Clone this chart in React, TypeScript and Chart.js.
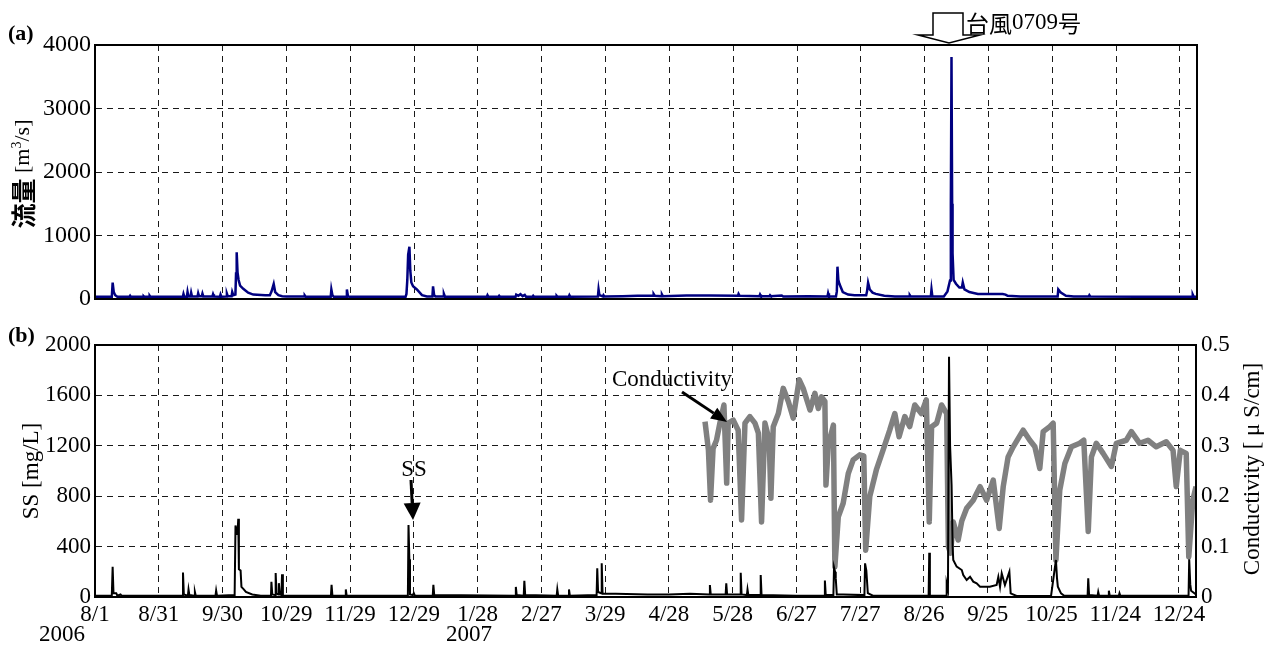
import React, { useEffect, useRef } from "react";
import { Chart, registerables } from "chart.js";
Chart.register(...registerables);

// ---------- data ----------
const tickDays = [0, 30, 60, 90, 120, 150, 180, 210, 240, 270, 300, 330, 360, 390, 420, 450, 480, 510];
const tickLabels = ["8/1", "8/31", "9/30", "10/29", "11/29", "12/29", "1/28", "2/27", "3/29", "4/28", "5/28", "6/27", "7/27", "8/26", "9/25", "10/25", "11/24", "12/24"];
const flowTicks = [0, 500, 1000, 1500, 2000, 2500, 3000, 3500, 4000];
const ssTicks = [0, 200, 400, 600, 800, 1000, 1200, 1400, 1600, 1800, 2000];
const condTicks = [0, 0.1, 0.2, 0.3, 0.4, 0.5];

// days since 2006-08-01, discharge m3/s
const flowDays = [0, 7.9, 8.3, 8.8, 9.5, 10.5, 16.2, 16.5, 16.8, 22.6, 22.9, 23.2, 25.4, 25.7, 26, 41.3, 41.6, 42, 43.2, 43.5, 43.9, 44.9, 45.2, 45.6, 48.2, 48.5, 48.9, 50.2, 50.5, 50.9, 55.2, 55.5, 55.9, 58.7, 59, 59.4, 61.7, 62, 62.4, 64.2, 64.5, 65, 66, 66.3, 66.6, 67, 67.5, 68.2, 69.7, 72, 74.4, 80, 82.2, 83, 84, 84.7, 86.2, 88, 90, 98.3, 98.6, 99, 110.8, 111.1, 111.6, 112.2, 118.1, 118.4, 118.9, 119.5, 146, 146.4, 146.8, 147.2, 147.8, 148.2, 148.7, 149.5, 151.3, 153.7, 156, 158.6, 158.9, 159.4, 160, 163.7, 164, 164.5, 184.2, 184.5, 184.9, 189.7, 190, 190.4, 197.7, 198, 199, 200, 201, 202, 202.6, 205.7, 206, 206.4, 216.7, 217, 217.4, 222.7, 223, 223.4, 236.4, 236.7, 237.1, 238.7, 239, 239.4, 248, 255, 262.3, 262.6, 263.2, 266.2, 266.5, 266.9, 278, 289, 302.2, 302.5, 303, 312.3, 312.6, 313, 317, 317.3, 317.7, 322.8, 323.5, 335.3, 344.3, 344.6, 345, 348.3, 348.7, 349, 349.4, 349.9, 351.5, 354, 357, 362.5, 362.9, 363.4, 364.2, 365.5, 367, 371, 376, 382.7, 383, 383.4, 392.9, 393.2, 393.6, 399, 400.7, 401.9, 402.3, 402.6, 402.9, 403.1, 403.6, 404.7, 406.3, 407.5, 407.9, 408.7, 411, 415, 426.7, 428, 429, 435, 452.5, 452.8, 453.5, 454, 456.4, 460, 467.1, 467.4, 467.8, 490, 515.7, 516, 516.4, 518];
const flowValues = [35, 35, 257, 110, 60, 35, 35, 50, 35, 35, 45, 35, 35, 50, 35, 35, 80, 35, 35, 110, 40, 40, 100, 40, 40, 90, 45, 45, 85, 40, 40, 75, 40, 35, 70, 35, 40, 85, 45, 45, 110, 60, 70, 400, 735, 420, 300, 210, 160, 100, 70, 60, 60, 120, 236, 110, 60, 45, 40, 40, 55, 35, 35, 150, 60, 35, 35, 150, 45, 35, 35, 80, 300, 700, 824, 450, 260, 200, 150, 60, 40, 40, 200, 60, 40, 40, 80, 35, 35, 60, 35, 35, 50, 35, 35, 70, 50, 75, 45, 65, 35, 35, 50, 35, 35, 50, 35, 35, 60, 35, 40, 150, 60, 40, 60, 40, 45, 50, 50, 80, 50, 45, 70, 45, 55, 55, 50, 80, 50, 45, 70, 45, 45, 60, 45, 55, 40, 45, 40, 90, 40, 40, 120, 509, 300, 240, 110, 70, 60, 60, 120, 257, 150, 100, 80, 50, 40, 40, 60, 40, 40, 150, 40, 40, 120, 290, 1500, 3811, 1500, 720, 300, 240, 180, 180, 260, 150, 110, 80, 80, 70, 50, 40, 40, 150, 120, 100, 50, 40, 40, 60, 40, 35, 35, 70, 40, 35];

// suspended solids mg/L
const ssDays = [0, 7.9, 8.3, 8.7, 10, 10.5, 12, 12.5, 41.1, 41.4, 41.8, 43.7, 44, 44.4, 46.7, 47, 47.4, 56.7, 57, 57.4, 65.7, 66.1, 66.5, 66.8, 67.1, 67.4, 67.7, 68.5, 68.9, 70, 71, 74, 78, 82.8, 83, 83.4, 84.7, 85, 85.4, 86.2, 86.5, 86.9, 87.7, 88, 88.4, 100, 111, 111.3, 111.7, 117.7, 118, 118.4, 147.2, 147.5, 147.9, 148.2, 149.5, 150, 150.5, 158.9, 159.2, 159.6, 197.7, 198, 198.4, 201.7, 202, 202.4, 217.2, 217.5, 217.9, 222.7, 223, 223.4, 236, 236.3, 236.7, 238.1, 238.4, 238.8, 245, 260, 270, 280, 289, 289.3, 289.7, 296.7, 297, 297.4, 303.5, 303.8, 304.2, 306.7, 307, 307.4, 312.9, 313.2, 313.6, 330, 343.1, 343.4, 343.8, 347.4, 347.7, 348.2, 348.5, 349, 352, 362, 362.3, 362.9, 363.6, 366, 380, 392.2, 392.5, 392.8, 400.4, 400.7, 401.3, 401.8, 402.3, 403, 403.5, 403.8, 405.4, 407.8, 408.5, 410.1, 411.7, 413.2, 414.8, 416.4, 421, 424.2, 425, 425.8, 426.6, 428.1, 430.2, 430.8, 433.6, 449.8, 452.1, 452.6, 453, 454.5, 456, 467, 467.3, 467.7, 471.7, 472, 472.4, 476.7, 477, 477.4, 481.7, 482, 482.4, 510, 514.5, 514.8, 515.3, 515.7, 518];
const ssValues = [10, 10, 240, 30, 30, 10, 20, 10, 10, 195, 20, 10, 60, 15, 10, 40, 10, 10, 50, 10, 15, 568, 500, 560, 520, 621, 220, 210, 80, 60, 40, 20, 10, 10, 120, 20, 15, 190, 30, 20, 110, 25, 15, 180, 10, 10, 10, 96, 10, 10, 60, 10, 10, 571, 300, 20, 15, 30, 10, 10, 96, 15, 10, 80, 15, 10, 128, 15, 10, 60, 10, 10, 60, 10, 15, 228, 40, 30, 267, 25, 25, 20, 20, 25, 20, 95, 20, 20, 108, 20, 20, 193, 20, 15, 60, 15, 15, 175, 15, 10, 10, 130, 15, 15, 235, 200, 150, 20, 20, 15, 267, 210, 30, 10, 10, 10, 352, 10, 10, 106, 60, 1907, 1200, 889, 400, 294, 241, 214, 175, 135, 161, 122, 108, 82, 82, 95, 160, 80, 188, 95, 201, 29, 8, 8, 294, 150, 82, 29, 10, 10, 148, 15, 10, 40, 10, 10, 50, 10, 10, 30, 10, 10, 10, 300, 100, 50, 20];

// conductivity uS/cm
const condDays = [287.0, 288.6, 289.6, 290.8, 292.4, 294, 295.9, 297.2, 297.9, 300.3, 302.6, 304.2, 305.8, 308.1, 310.5, 312.1, 313.6, 315.2, 317.2, 318, 319.1, 321.5, 323.8, 326.2, 328.5, 331.3, 333.2, 336.4, 338.7, 340.3, 341.8, 343.4, 343.9, 345, 347.4, 348.1, 349.7, 352, 354.4, 356.7, 359.8, 361.7, 362.6, 364.5, 367.6, 370.8, 373.9, 376.3, 378.3, 381, 383.3, 385.7, 388.8, 391.1, 392.5, 393.6, 396, 398.3, 400.7, 401.5, 402.5, 403.8, 406.1, 407.8, 410.1, 413.2, 416.4, 419.5, 422.6, 425.4, 427.3, 429.6, 432, 436.7, 439.8, 442.2, 444.5, 446.1, 449.2, 450.8, 452.1, 453.9, 456.3, 459.4, 463.3, 465.2, 467.3, 468.8, 471.1, 474.3, 478.2, 480.5, 485.2, 487.6, 491.5, 495.4, 499.3, 504, 507.2, 508.7, 510.6, 513.4, 514.6, 516.5, 518];
const condValues = [0.348, 0.292, 0.192, 0.295, 0.311, 0.345, 0.381, 0.226, 0.345, 0.351, 0.331, 0.153, 0.345, 0.358, 0.345, 0.325, 0.149, 0.345, 0.311, 0.196, 0.338, 0.364, 0.414, 0.388, 0.355, 0.431, 0.414, 0.371, 0.404, 0.374, 0.397, 0.388, 0.222, 0.302, 0.341, 0.06, 0.159, 0.186, 0.245, 0.272, 0.282, 0.28, 0.093, 0.199, 0.252, 0.292, 0.331, 0.364, 0.318, 0.358, 0.338, 0.381, 0.364, 0.391, 0.149, 0.338, 0.345, 0.381, 0.364, 0.1, 0.087, 0.149, 0.113, 0.151, 0.176, 0.192, 0.219, 0.192, 0.232, 0.136, 0.219, 0.278, 0.298, 0.331, 0.311, 0.298, 0.255, 0.328, 0.338, 0.345, 0.073, 0.212, 0.265, 0.298, 0.305, 0.311, 0.13, 0.278, 0.305, 0.285, 0.259, 0.305, 0.311, 0.328, 0.305, 0.311, 0.298, 0.308, 0.291, 0.219, 0.291, 0.285, 0.08, 0.192, 0.219];

// ---------- helpers ----------
const SERIF = "'Liberation Serif', 'Times New Roman', serif";
const CJK = "'Noto Sans CJK JP', sans-serif";

type Part = { text: string; font: string; dy?: number };

function drawRich(ctx: CanvasRenderingContext2D, parts: Part[], cx: number, cy: number, rotate: boolean, align: "center" | "left" = "center") {
  ctx.save();
  ctx.translate(cx, cy);
  if (rotate) ctx.rotate(-Math.PI / 2);
  let total = 0;
  for (const p of parts) {
    ctx.font = p.font;
    total += ctx.measureText(p.text).width;
  }
  let x = align === "center" ? -total / 2 : 0;
  ctx.textBaseline = "middle";
  ctx.textAlign = "left";
  ctx.fillStyle = "#000";
  for (const p of parts) {
    ctx.font = p.font;
    ctx.fillText(p.text, x, p.dy || 0);
    x += ctx.measureText(p.text).width;
  }
  ctx.restore();
}

function drawArrow(ctx: CanvasRenderingContext2D, x1: number, y1: number, x2: number, y2: number, headLen: number, headW: number, lw: number) {
  const ang = Math.atan2(y2 - y1, x2 - x1);
  const bx = x2 - headLen * Math.cos(ang);
  const by = y2 - headLen * Math.sin(ang);
  ctx.save();
  ctx.strokeStyle = "#000";
  ctx.fillStyle = "#000";
  ctx.lineWidth = lw;
  ctx.beginPath();
  ctx.moveTo(x1, y1);
  ctx.lineTo(bx, by);
  ctx.stroke();
  const px = -Math.sin(ang) * headW / 2;
  const py = Math.cos(ang) * headW / 2;
  ctx.beginPath();
  ctx.moveTo(x2, y2);
  ctx.lineTo(bx + px, by + py);
  ctx.lineTo(bx - px, by - py);
  ctx.closePath();
  ctx.fill();
  ctx.restore();
}

function frame(chart: any) {
  const { ctx, chartArea: a } = chart;
  ctx.save();
  ctx.strokeStyle = "#000";
  ctx.lineWidth = 2;
  ctx.strokeRect(a.left, a.top, a.right - a.left, a.bottom - a.top);
  ctx.restore();
}

const gridOpts = { color: "#1a1a1a", lineWidth: 1, drawTicks: false };
const borderOpts = { display: true, color: "#000", width: 2, dash: [6, 5] };

function toPoints(xs: number[], ys: number[]) {
  return xs.map((x, i) => ({ x, y: ys[i] }));
}

const xTickBuild = (s: any) => {
  s.ticks = tickDays.map((v) => ({ value: v }));
};

export default function App() {
  const topRef = useRef<HTMLCanvasElement>(null);
  const botRef = useRef<HTMLCanvasElement>(null);

  useEffect(() => {
    const top = new Chart(topRef.current as HTMLCanvasElement, {
      type: "line",
      data: {
        datasets: [
          {
            data: toPoints(flowDays, flowValues),
            borderColor: "#000080",
            borderWidth: 2.5,
            pointRadius: 0,
            tension: 0,
          },
        ],
      },
      options: {
        animation: false,
        responsive: false,
        events: [],
        layout: { padding: { left: 0, right: 73, top: 45, bottom: 21 } },
        plugins: { legend: { display: false }, tooltip: { enabled: false } },
        scales: {
          x: {
            type: "linear",
            min: 0,
            max: 518,
            afterBuildTicks: xTickBuild,
            ticks: { display: false },
            grid: gridOpts,
            border: borderOpts,
            afterFit: (s: any) => {
              s.height = 0;
            },
          },
          y: {
            min: 0,
            max: 4000,
            afterBuildTicks: (s: any) => {
              s.ticks = flowTicks.map((v) => ({ value: v }));
            },
            ticks: {
              callback: (v: any) => (v % 1000 === 0 ? String(v) : ""),
              font: { family: SERIF, size: 24 },
              color: "#000",
              padding: 4,
            },
            grid: gridOpts,
            border: borderOpts,
            afterFit: (s: any) => {
              s.width = 95;
            },
          },
        },
      },
      plugins: [
        {
          id: "decoTop",
          afterDraw(chart: any) {
            const ctx = chart.ctx as CanvasRenderingContext2D;
            frame(chart);
            drawRich(ctx, [{ text: "(a)", font: `bold 22px ${SERIF}` }], 8, 34, false, "left");
            drawRich(
              ctx,
              [
                { text: "流量", font: `bold 25px ${CJK}` },
                { text: " [m", font: `22px ${SERIF}` },
                { text: "3", font: `14px ${SERIF}`, dy: -6 },
                { text: "/s]", font: `22px ${SERIF}` },
              ],
              23,
              174,
              true
            );
            // typhoon hollow arrow
            ctx.save();
            ctx.strokeStyle = "#000";
            ctx.fillStyle = "#fff";
            ctx.lineWidth = 1.5;
            ctx.beginPath();
            ctx.moveTo(933, 13);
            ctx.lineTo(963, 13);
            ctx.lineTo(963, 35);
            ctx.lineTo(980, 35);
            ctx.lineTo(949, 43);
            ctx.lineTo(918, 35);
            ctx.lineTo(933, 35);
            ctx.closePath();
            ctx.fill();
            ctx.stroke();
            ctx.restore();
            drawRich(
              ctx,
              [
                { text: "台風", font: `23px ${CJK}` },
                { text: "0709", font: `23px ${SERIF}` },
                { text: "号", font: `23px ${CJK}` },
              ],
              966,
              23,
              false,
              "left"
            );
          },
        },
      ],
    } as any);

    const bot = new Chart(botRef.current as HTMLCanvasElement, {
      type: "line",
      data: {
        datasets: [
          {
            data: toPoints(ssDays, ssValues),
            borderColor: "#000",
            borderWidth: 2,
            pointRadius: 0,
            tension: 0,
            yAxisID: "y",
          },
          {
            data: toPoints(condDays, condValues),
            borderColor: "#808080",
            borderWidth: 5.5,
            borderJoinStyle: "round",
            pointRadius: 0,
            tension: 0,
            yAxisID: "y1",
          },
        ],
      },
      options: {
        animation: false,
        responsive: false,
        events: [],
        layout: { padding: { left: 0, right: 0, top: 25, bottom: 0 } },
        plugins: { legend: { display: false }, tooltip: { enabled: false } },
        scales: {
          x: {
            type: "linear",
            min: 0,
            max: 518,
            afterBuildTicks: xTickBuild,
            ticks: {
              autoSkip: false,
              maxRotation: 0,
              minRotation: 0,
              padding: 4,
              font: { family: SERIF, size: 23 },
              color: "#000",
              callback: (v: any) => {
                const i = tickDays.indexOf(Number(v));
                return i >= 0 ? tickLabels[i] : "";
              },
            },
            grid: gridOpts,
            border: borderOpts,
            afterFit: (s: any) => {
              s.height = 49;
            },
          },
          y: {
            position: "left",
            min: 0,
            max: 2000,
            afterBuildTicks: (s: any) => {
              s.ticks = ssTicks.map((v) => ({ value: v }));
            },
            ticks: {
              callback: (v: any) => (v % 400 === 0 ? String(v) : ""),
              font: { family: SERIF, size: 23 },
              color: "#000",
              padding: 4,
            },
            grid: gridOpts,
            border: borderOpts,
            afterFit: (s: any) => {
              s.width = 95;
            },
          },
          y1: {
            position: "right",
            min: 0,
            max: 0.5,
            afterBuildTicks: (s: any) => {
              s.ticks = condTicks.map((v) => ({ value: v }));
            },
            ticks: {
              callback: (v: any) => (Number(v) === 0 ? "0" : Number(v).toFixed(1)),
              font: { family: SERIF, size: 23 },
              color: "#000",
              padding: 5,
            },
            grid: { display: false, drawTicks: false },
            border: { display: true, color: "#000", width: 2 },
            afterFit: (s: any) => {
              s.width = 74;
            },
          },
        },
      },
      plugins: [
        {
          id: "decoBot",
          afterDraw(chart: any) {
            const ctx = chart.ctx as CanvasRenderingContext2D;
            frame(chart);
            drawRich(ctx, [{ text: "(b)", font: `bold 22px ${SERIF}` }], 8, 16, false, "left");
            drawRich(ctx, [{ text: "SS [mg/L]", font: `23px ${SERIF}` }], 32, 151, true);
            drawRich(ctx, [{ text: "Conductivity [ μ S/cm]", font: `23px ${SERIF}` }], 1253, 149, true);
            drawRich(ctx, [{ text: "2006", font: `23px ${SERIF}` }], 62, 315, false);
            drawRich(ctx, [{ text: "2007", font: `23px ${SERIF}` }], 469, 315, false);
            drawRich(ctx, [{ text: "Conductivity", font: `23px ${SERIF}` }], 612, 60, false, "left");
            drawArrow(ctx, 682, 72, 727, 102, 16, 13, 3);
            drawRich(ctx, [{ text: "SS", font: `23px ${SERIF}` }], 414, 150, false);
            drawArrow(ctx, 411, 160, 413, 200, 17, 17, 3);
          },
        },
      ],
    } as any);

    return () => {
      top.destroy();
      bot.destroy();
    };
  }, []);

  return (
    <div style={{ position: "absolute", left: 0, top: 0, width: 1270, height: 646, background: "#fff" }}>
      <canvas ref={topRef} width={1270} height={320} style={{ display: "block", width: 1270, height: 320 }} />
      <canvas ref={botRef} width={1270} height={326} style={{ display: "block", width: 1270, height: 326 }} />
    </div>
  );
}
